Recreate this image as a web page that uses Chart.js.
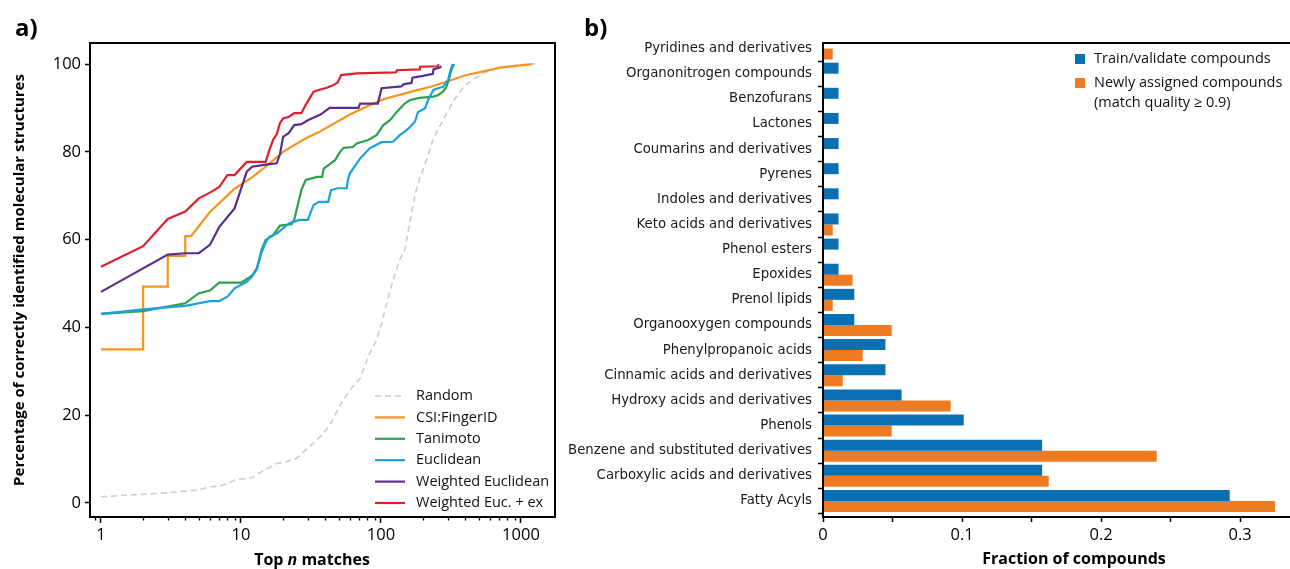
<!DOCTYPE html>
<html>
<head>
<meta charset="utf-8">
<script src="https://cdn.jsdelivr.net/npm/chart.js@4.4.1/dist/chart.umd.min.js"></script>
<style>
    html, body { margin: 0; padding: 0; background: #fff; }
    #figure { position: relative; width: 1290px; height: 569px; overflow: hidden; font-family: 'Open Sans', sans-serif; color: #000; }
    #topChart { position: absolute; left: 0; top: 0; }
    #fracChart { position: absolute; left: 560px; top: 0; }
    .panel-tag { position: absolute; top: 11px; font-size: 24px; font-weight: 700; line-height: 32px; }
    .x-title { position: absolute; top: 548px; width: 240px; text-align: center; font-size: 16px; font-weight: 700; line-height: 22px; }
</style>
</head>
<body>
<div id="figure">
    <canvas id="topChart" width="560" height="569"></canvas>
    <canvas id="fracChart" width="770" height="569"></canvas>
    <div class="panel-tag" style="left: 15px;">a)</div>
    <div class="panel-tag" style="left: 584px;">b)</div>
    <div class="x-title" style="left: 192px;">Top <i>n</i> matches</div>
</div>
<script>
// ---- panel a: cumulative identification rate vs rank ----
const randomN = [1, 2, 3, 5, 6, 7, 9, 10, 12, 14, 18, 21, 25, 30, 38, 44, 51, 60, 71, 83, 93, 101, 110, 122, 136, 148, 161, 175, 189, 206, 237, 277, 326, 398, 537, 707, 931, 1260];
const randomPct = [1.4, 2.0, 2.3, 3.0, 3.7, 3.8, 5.1, 5.4, 5.8, 7.1, 9.0, 9.4, 10.2, 12.5, 15.5, 18.2, 22.3, 25.7, 28.4, 34.1, 37.1, 40.9, 45.5, 50.8, 55.4, 57.6, 64.1, 70.2, 74.0, 77.0, 83.1, 87.2, 91.4, 95.2, 97.9, 99.2, 99.8, 100];

const csiN = [1, 2, 2, 3, 3, 4, 4, 4.4, 6, 9, 12, 15, 20, 28, 36, 60, 80, 104, 160, 237, 300, 408, 550, 707, 1200];
const csiPct = [35, 35, 49.3, 49.3, 56.3, 56.3, 60.8, 60.8, 66.3, 71.6, 74.2, 76.6, 80.0, 82.8, 84.5, 88.5, 90.4, 92.0, 93.6, 95.0, 96.1, 97.5, 98.4, 99.2, 100];

const tanimotoN = [1, 2, 4, 5, 6, 7, 10, 12, 13, 14, 15, 17, 19, 23, 24, 27, 29, 35, 38, 39, 47, 51, 54, 63, 67, 81, 93, 104, 116, 133, 148, 161, 189, 236, 255, 277, 293, 307, 318, 333];
const tanimotoPct = [43.1, 43.7, 45.5, 47.8, 48.4, 50.2, 50.2, 51.8, 53.5, 57.6, 59.9, 61.0, 63.2, 63.5, 64.5, 71.3, 73.6, 74.3, 74.3, 76.2, 78.1, 80.0, 80.9, 81.1, 81.9, 82.7, 83.8, 86.1, 87.2, 89.5, 91.0, 91.8, 92.3, 92.6, 92.9, 93.7, 94.8, 96.7, 98.6, 100];

const euclidN = [1, 2, 4, 6, 7, 8, 9, 11, 12, 13, 14, 15, 16, 18, 22, 26, 30, 33, 36, 42, 44, 49, 57, 58, 60, 71, 77, 83, 101, 122, 136, 148, 162, 175, 184, 206, 217, 237, 255, 277, 302, 314, 325];
const euclidPct = [43.1, 44.1, 44.9, 46.0, 46.0, 47.0, 48.9, 50.4, 51.6, 53.3, 57.0, 59.3, 60.7, 61.4, 63.7, 64.5, 64.5, 67.9, 68.6, 68.6, 71.3, 71.7, 71.7, 73.6, 75.1, 78.5, 79.7, 80.8, 82.2, 82.3, 83.8, 84.6, 85.7, 86.9, 89.1, 89.9, 91.8, 94.1, 94.5, 94.8, 96.4, 98.6, 100];

const wEucN = [1, 3, 4, 5, 6, 7, 9, 11, 12, 15, 18, 19, 20, 22, 24, 27, 30, 37, 43, 69, 71, 95, 101, 140, 145, 165, 168, 200, 235, 237, 262, 270];
const wEucPct = [48.1, 56.6, 56.9, 56.9, 58.8, 62.9, 67.1, 75.5, 76.6, 77.1, 77.4, 79.5, 83.4, 84.3, 86.1, 86.3, 87.2, 88.5, 90.0, 90.0, 91.0, 91.0, 94.5, 94.9, 95.4, 95.7, 96.9, 97.3, 97.8, 98.8, 99.2, 99.5];

const wEucExN = [1, 2, 3, 4, 5, 6, 7, 8, 9, 11, 15, 16, 17, 18, 19, 20, 22, 24, 27, 29, 33, 36, 41, 45, 49, 52, 67, 128, 130, 188, 190, 255, 258];
const wEucExPct = [53.8, 58.5, 64.7, 66.4, 69.4, 70.7, 72.0, 74.7, 74.7, 77.7, 77.7, 80.5, 82.8, 84.0, 86.6, 87.6, 88.0, 88.8, 88.8, 90.7, 93.7, 94.1, 94.6, 95.1, 95.8, 97.5, 97.9, 98.1, 98.6, 98.8, 99.4, 99.5, 100];

const decadeTicks = [1, 10, 100, 1000];
const pctTicks = [0, 20, 40, 60, 80, 100];

// ---- panel b: compound classes ----
const classNames = [
    'Pyridines and derivatives', 'Organonitrogen compounds', 'Benzofurans', 'Lactones',
    'Coumarins and derivatives', 'Pyrenes', 'Indoles and derivatives', 'Keto acids and derivatives',
    'Phenol esters', 'Epoxides', 'Prenol lipids', 'Organooxygen compounds', 'Phenylpropanoic acids',
    'Cinnamic acids and derivatives', 'Hydroxy acids and derivatives', 'Phenols',
    'Benzene and substituted derivatives', 'Carboxylic acids and derivatives', 'Fatty Acyls'
];
const trainFrac = [0, 0.0112, 0.0112, 0.0112, 0.0112, 0.0112, 0.0112, 0.0112, 0.0112, 0.0112, 0.0225, 0.0225, 0.0449, 0.0449, 0.0565, 0.1012, 0.1576, 0.1576, 0.2925];
const newFrac = [0.007, 0, 0, 0, 0, 0, 0, 0.007, 0, 0.0213, 0.007, 0.0494, 0.0285, 0.0142, 0.0918, 0.0494, 0.240, 0.1623, 0.325];
const fracTicks = [0, 0.05, 0.1, 0.15, 0.2, 0.25, 0.3, 0.35];
const fracLabels = [0, 0.1, 0.2, 0.3];

const toPoints = (xs, ys) => xs.map((x, i) => ({ x: x, y: ys[i] }));

Chart.defaults.font.family = "'Open Sans', sans-serif";
Chart.defaults.color = '#000';

// black box around the plotting area
const frame = {
    id: 'frame',
    afterDraw(chart) {
        const { ctx, chartArea: a } = chart;
        ctx.save();
        ctx.strokeStyle = '#000';
        ctx.lineWidth = 2;
        ctx.strokeRect(a.left, a.top, a.right - a.left, a.bottom - a.top);
        ctx.restore();
    }
};

// short ticks between the decades on the log axis
const minorTicks = {
    id: 'minorTicks',
    afterDraw(chart, args, opts) {
        const { ctx, chartArea: a, scales } = chart;
        const x = scales.x;
        ctx.save();
        ctx.strokeStyle = '#000';
        ctx.lineWidth = 1.3;
        ctx.beginPath();
        opts.values.forEach(v => {
            if (v < x.min || v > x.max) return;
            const px = Math.round(x.getPixelForValue(v)) + 0.5;
            ctx.moveTo(px, a.bottom);
            ctx.lineTo(px, a.bottom + opts.length);
        });
        ctx.stroke();
        ctx.restore();
    }
};

// line-sample key in the lower right of panel a
const lineKey = {
    id: 'lineKey',
    afterDraw(chart, args, opts) {
        const { ctx, chartArea: a } = chart;
        const sets = chart.data.datasets;
        ctx.save();
        ctx.font = opts.size + "px 'Open Sans'";
        ctx.textBaseline = 'middle';
        sets.forEach((ds, i) => {
            const y = a.bottom - opts.bottom - (sets.length - 1 - i) * opts.gap;
            ctx.strokeStyle = ds.borderColor;
            ctx.lineWidth = ds.borderWidth;
            ctx.setLineDash(ds.borderDash || []);
            ctx.beginPath();
            ctx.moveTo(a.right - opts.right, y);
            ctx.lineTo(a.right - opts.right + 30, y);
            ctx.stroke();
            ctx.fillStyle = '#111';
            ctx.fillText(ds.label, a.right - opts.right + 41, y);
        });
        ctx.restore();
    }
};

// square-swatch key in the upper right of panel b
const boxKey = {
    id: 'boxKey',
    afterDraw(chart, args, opts) {
        const { ctx, chartArea: a } = chart;
        ctx.save();
        ctx.font = opts.size + "px 'Open Sans'";
        ctx.textBaseline = 'middle';
        let y = a.top + opts.top;
        chart.data.datasets.forEach(ds => {
            const lines = [].concat(ds.label);
            ctx.fillStyle = ds.backgroundColor;
            ctx.fillRect(a.right - opts.right, y - 5, 10, 10);
            ctx.fillStyle = '#111';
            lines.forEach((t, k) => ctx.fillText(t, a.right - opts.right + 19, y + k * 20));
            y += lines.length * 20 + 4;
        });
        ctx.restore();
    }
};

const tickFont = { family: "'Open Sans'", size: 16.5 };

const lineStyle = (label, color, xs, ys, order) => ({
    label: label,
    data: toPoints(xs, ys),
    borderColor: color,
    borderWidth: 2.2,
    pointRadius: 0,
    fill: false,
    tension: 0,
    order: order
});

const randomSet = lineStyle('Random', '#cdcdcd', randomN, randomPct, 6);
randomSet.borderDash = [6, 4];
randomSet.borderWidth = 1.6;

new Chart(document.getElementById('topChart'), {
    type: 'line',
    data: {
        datasets: [
            randomSet,
            lineStyle('CSI:FingerID', '#f7941d', csiN, csiPct, 5),
            lineStyle('Tanimoto', '#2ca24a', tanimotoN, tanimotoPct, 4),
            lineStyle('Euclidean', '#1ba1dd', euclidN, euclidPct, 3),
            lineStyle('Weighted Euclidean', '#5b2e8c', wEucN, wEucPct, 2),
            lineStyle('Weighted Euc. + ex', '#e01f2d', wEucExN, wEucExPct, 1)
        ]
    },
    options: {
        responsive: false,
        animation: false,
        events: [],
        layout: { padding: { top: 43, right: 5, left: 0, bottom: 0 } },
        plugins: {
            legend: { display: false },
            tooltip: { enabled: false },
            minorTicks: {
                values: [0.9].concat([1, 10, 100].flatMap(d => [2, 3, 4, 5, 6, 7, 8, 9].map(k => k * d))),
                length: 3.5
            },
            lineKey: { size: 14.5, right: 180, bottom: 14, gap: 21.4 }
        },
        scales: {
            x: {
                type: 'logarithmic',
                min: 0.835,
                max: 1750,
                afterBuildTicks: s => { s.ticks = decadeTicks.map(v => ({ value: v })); },
                afterFit: s => { s.height = 52; },
                border: { display: false },
                grid: { drawOnChartArea: false, tickLength: 6, tickWidth: 1.5, tickColor: '#000' },
                ticks: { font: tickFont, padding: 2, maxRotation: 0, autoSkip: false, callback: v => String(v) }
            },
            y: {
                min: -3.2,
                max: 104.8,
                afterBuildTicks: s => { s.ticks = pctTicks.map(v => ({ value: v })); },
                afterFit: s => { s.width = 90; },
                border: { display: false },
                grid: { drawOnChartArea: false, tickLength: 5, tickWidth: 1.5, tickColor: '#000' },
                ticks: { font: tickFont, padding: 4 },
                title: {
                    display: true,
                    text: 'Percentage of correctly identified molecular structures',
                    font: { family: "'Open Sans'", size: 15, weight: 'bold' },
                    padding: { top: 11, bottom: 0 }
                }
            }
        }
    },
    plugins: [frame, minorTicks, lineKey]
});

new Chart(document.getElementById('fracChart'), {
    type: 'bar',
    data: {
        datasets: [
            {
                label: 'Train/validate compounds',
                data: trainFrac.map((v, i) => ({ x: v, y: i })),
                backgroundColor: '#0a6fb3'
            },
            {
                label: ['Newly assigned compounds', '(match quality \u2265 0.9)'],
                data: newFrac.map((v, i) => ({ x: v, y: i })),
                backgroundColor: '#ee7a22'
            }
        ]
    },
    options: {
        indexAxis: 'y',
        responsive: false,
        animation: false,
        events: [],
        layout: { padding: { top: 43, right: 5, left: 0, bottom: 0 } },
        datasets: { bar: { categoryPercentage: 0.875, barPercentage: 1, borderWidth: 0 } },
        plugins: {
            legend: { display: false },
            tooltip: { enabled: false },
            boxKey: { size: 14.5, right: 250, top: 16 }
        },
        scales: {
            x: {
                type: 'linear',
                min: 0,
                max: 0.361,
                afterBuildTicks: s => { s.ticks = fracTicks.map(v => ({ value: v })); },
                afterFit: s => { s.height = 52; },
                border: { display: false },
                grid: { drawOnChartArea: false, tickLength: 5, tickWidth: 1.5, tickColor: '#000' },
                ticks: {
                    font: tickFont, padding: 3, maxRotation: 0, autoSkip: false,
                    callback: v => fracLabels.includes(v) ? String(v) : ''
                },
                title: {
                    display: true,
                    text: 'Fraction of compounds',
                    font: { family: "'Open Sans'", size: 16, weight: 'bold' },
                    padding: { top: 0, bottom: 0 }
                }
            },
            y: {
                type: 'linear',
                reverse: true,
                offset: false,
                min: -0.22,
                max: 18.64,
                afterBuildTicks: s => { s.ticks = classNames.map((c, i) => ({ value: i })); },
                afterFit: s => { s.width = 263; },
                border: { display: false },
                grid: { drawOnChartArea: false, tickLength: 5, tickWidth: 1.5, tickColor: '#000' },
                ticks: {
                    font: { family: "'DejaVu Sans'", size: 13.3 },
                    color: '#1a1a1a',
                    padding: 6,
                    autoSkip: false,
                    callback: v => classNames[v]
                }
            }
        }
    },
    plugins: [frame, boxKey]
});
</script>
</body>
</html>
